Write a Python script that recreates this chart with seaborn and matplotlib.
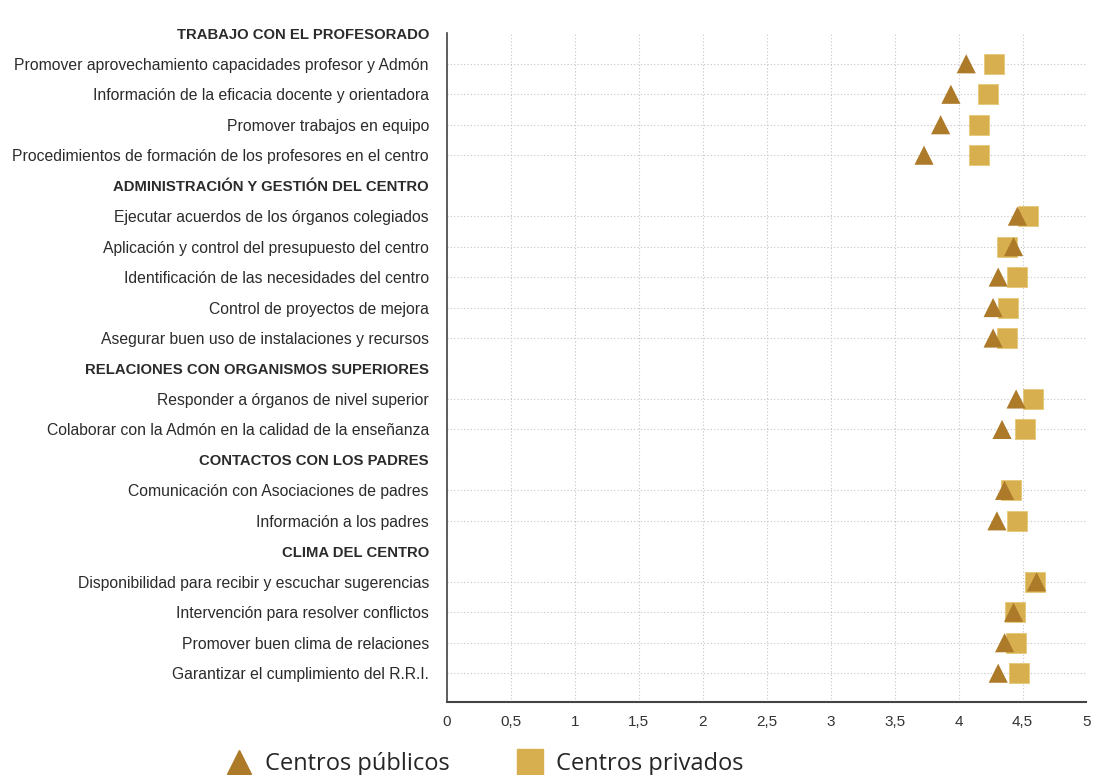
import pandas as pd
import seaborn as sns
import matplotlib.pyplot as plt
from matplotlib.lines import Line2D

# Rows in display order: headers (bold) and items
rows = [
    "TRABAJO CON EL PROFESORADO",
    "Promover aprovechamiento capacidades profesor y Admón",
    "Información de la eficacia docente y orientadora",
    "Promover trabajos en equipo",
    "Procedimientos de formación de los profesores en el centro",
    "ADMINISTRACIÓN Y GESTIÓN DEL CENTRO",
    "Ejecutar acuerdos de los órganos colegiados",
    "Aplicación y control del presupuesto del centro",
    "Identificación de las necesidades del centro",
    "Control de proyectos de mejora",
    "Asegurar buen uso de instalaciones y recursos",
    "RELACIONES CON ORGANISMOS SUPERIORES",
    "Responder a órganos de nivel superior",
    "Colaborar con la Admón en la calidad de la enseñanza",
    "CONTACTOS CON LOS PADRES",
    "Comunicación con Asociaciones de padres",
    "Información a los padres",
    "CLIMA DEL CENTRO",
    "Disponibilidad para recibir y escuchar sugerencias",
    "Intervención para resolver conflictos",
    "Promover buen clima de relaciones",
    "Garantizar el cumplimiento del R.R.I.",
]
headers = [
    "TRABAJO CON EL PROFESORADO",
    "ADMINISTRACIÓN Y GESTIÓN DEL CENTRO",
    "RELACIONES CON ORGANISMOS SUPERIORES",
    "CONTACTOS CON LOS PADRES",
    "CLIMA DEL CENTRO",
]

items = [r for r in rows if r not in headers]
publicos = [4.06, 3.94, 3.86, 3.73,
            4.46, 4.43, 4.31, 4.27, 4.27,
            4.45, 4.34,
            4.36, 4.30,
            4.61, 4.43, 4.36, 4.31]
privados = [4.28, 4.23, 4.16, 4.16,
            4.54, 4.38, 4.46, 4.39, 4.38,
            4.58, 4.52,
            4.41, 4.46,
            4.60, 4.44, 4.45, 4.47]
xticks = [0, 0.5, 1, 1.5, 2, 2.5, 3, 3.5, 4, 4.5, 5]
xtick_labels = ["0", "0,5", "1", "1,5", "2", "2,5", "3", "3,5", "4", "4,5", "5"]

col_pub = "#AD7A2A"
col_priv = "#D8AF4E"

df = pd.DataFrame({
    "item": items * 2,
    "valor": publicos + privados,
    "serie": ["Centros públicos"] * len(items) + ["Centros privados"] * len(items),
})
df["pos"] = df["item"].map({r: i for i, r in enumerate(rows)})

sns.set_style("white")
plt.rcParams["font.family"] = ["Liberation Sans", "DejaVu Sans"]

fig = plt.figure(figsize=(10.93, 7.75), dpi=100)
ax = fig.add_axes([0.409, 0.094, 0.585, 0.863])

# squares first, triangles drawn on top
sns.scatterplot(data=df[df["serie"] == "Centros privados"], x="valor", y="pos",
                marker="s", s=190, color=col_priv, edgecolor="#E6C878",
                linewidth=0.6, ax=ax, zorder=3, legend=False)
sns.scatterplot(data=df[df["serie"] == "Centros públicos"], x="valor", y="pos",
                marker="^", s=190, color=col_pub, edgecolor="none",
                ax=ax, zorder=4, legend=False)

ax.set_xlim(0, 5)
ax.set_ylim(21.95, 0.33)
ax.set_xticks(xticks)
ax.set_xticklabels(xtick_labels, fontsize=11, color="#333333")
ax.set_yticks(range(len(rows)))
ax.set_yticklabels(rows, fontsize=11.3, color="#2b2b2b")
for lbl in ax.get_yticklabels():
    if lbl.get_text() in headers:
        lbl.set_fontweight("bold")
        lbl.set_fontsize(10.7)
ax.tick_params(axis="y", length=0, pad=13)
ax.tick_params(axis="x", length=0, pad=9)
ax.set_xlabel("")
ax.set_ylabel("")

ax.grid(True, linestyle=(0, (1, 2)), color="#c4c4c4", linewidth=0.8)
for line, r in zip(ax.yaxis.get_gridlines(), rows):
    if r in headers:
        line.set_visible(False)
ax.set_axisbelow(True)

for side in ["top", "right"]:
    ax.spines[side].set_visible(False)
ax.spines["left"].set_color("#444444")
ax.spines["bottom"].set_color("#444444")
ax.spines["left"].set_linewidth(1.2)
ax.spines["bottom"].set_linewidth(1.5)

handles = [
    Line2D([], [], marker="^", linestyle="", markersize=17, color=col_pub, label="Centros públicos"),
    Line2D([], [], marker="s", linestyle="", markersize=19, color=col_priv, label="Centros privados"),
]
fig.legend(handles=handles, loc="lower left", bbox_to_anchor=(0.178, -0.029), ncol=2,
           frameon=False, handletextpad=0.1, columnspacing=2.4,
           prop={"family": ["Open Sans", "DejaVu Sans"], "size": 17})

fig.savefig("out.png", dpi=100)
